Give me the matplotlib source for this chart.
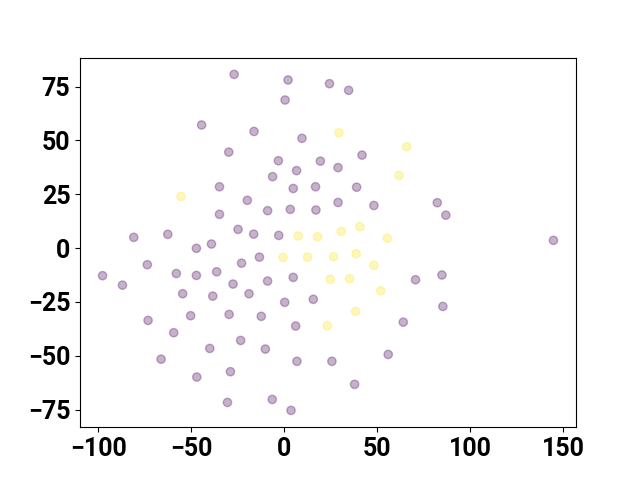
import matplotlib
matplotlib.use("Agg")
import matplotlib.pyplot as plt

plt.rcParams['font.family'] = ['Roboto', 'DejaVu Sans']
plt.rcParams['font.weight'] = 'bold'
plt.rcParams['font.size'] = 18

# class 0 (purple) points
x0 = [-27.0, 2.0, 24.3, 0.4, -44.5, -16.3, 9.5, -29.9, -3.2, 19.4,
      6.6, -6.3, -34.9, 4.8, 16.8, -19.9, -34.9, -9.0, 3.2, 17.0,
      -81.0, -62.7, -24.9, -16.5, -3.0, -39.2, -47.3, 34.6, 41.8, 28.9,
      38.9, 28.9, 48.2, 82.3, 86.9, 144.8, -73.7, -97.8, -87.1, -58.1,
      -47.3, -36.4, -23.0, -13.4, -27.6, -9.0, 4.8, -54.7, -38.5, -19.0,
      0.2, 15.6, -73.3, -50.4, -29.7, -12.4, 6.1, -59.5, -23.5, -40.1,
      -10.2, -66.3, 6.8, 25.6, -47.1, -29.0, -30.6, -6.5, 3.6, 70.6,
      84.8, 85.3, 64.0, 55.9, 37.8]
y0 = [80.7, 78.1, 76.4, 68.8, 57.2, 54.2, 51.0, 44.6, 40.6, 40.4,
      36.0, 33.2, 28.5, 27.7, 28.5, 22.2, 15.7, 17.4, 18.0, 17.7,
      5.0, 6.4, 8.7, 6.5, 5.9, 1.9, -0.1, 73.3, 43.2, 37.4,
      28.3, 21.2, 19.8, 21.1, 15.3, 3.6, -7.7, -12.8, -17.2, -11.8,
      -12.7, -11.0, -7.0, -4.2, -16.7, -15.3, -13.6, -21.2, -22.3, -21.2,
      -25.2, -23.8, -33.6, -31.4, -30.8, -31.7, -36.2, -39.3, -42.9, -46.6,
      -46.9, -51.6, -52.6, -52.6, -59.9, -57.4, -71.7, -70.3, -75.4, -14.7,
      -12.5, -27.1, -34.4, -49.4, -63.3]

# class 1 (yellow) points
x1 = [-55.6, 7.5, 17.9, 29.4, 65.8, 61.7, 40.7, 30.6, 55.4, -0.7,
      12.5, 24.7, 23.1, 26.5, 38.7, 48.2, 35.1, 51.8, 38.3]
y1 = [24.0, 5.6, 5.3, 53.6, 47.1, 33.8, 9.9, 7.8, 4.6, -4.3,
      -4.2, -14.5, -36.1, -4.0, -2.6, -8.0, -14.2, -19.8, -29.4]

xs = x0 + x1
ys = y0 + y1
labels = [0] * len(x0) + [1] * len(x1)

fig = plt.figure(figsize=(6.4, 4.8), dpi=100)
plt.scatter(xs, ys, c=labels, cmap="viridis", alpha=0.3)

plt.savefig("out.png")
